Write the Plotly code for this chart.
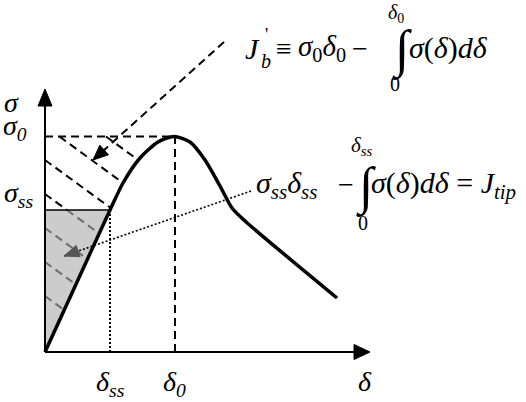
import numpy as np
import plotly.graph_objects as go

# ---- data (schematic cohesive law, arbitrary units) ----
delta_curve = [0.0, 0.325, 0.65, 0.78, 0.95, 1.13, 1.29, 1.45, 1.60, 1.75, 1.87, 2.00, 2.92]
sigma_curve = [0.0, 0.71, 1.42, 1.69, 1.94, 2.10, 2.155, 2.10, 1.92, 1.66, 1.44, 1.31, 0.54]
delta_ss, delta_0 = 0.65, 1.30
sigma_ss, sigma_0 = 1.42, 2.155
peak_index = 6
hatch_intercepts = [2.60, 2.26, 1.92, 1.58, 1.24, 0.90, 0.56]
hatch_slope = 0.73
axis_end_delta, axis_end_sigma = 3.25, 2.63
jb_from, jb_to = (1.79, 3.10), (0.48, 1.92)
jtip_from, jtip_to = (2.06, 1.61), (0.19, 0.96)

W, H = 526, 402
XR = [-0.45, 4.81]
YR = [-0.50, 3.52]
FONT = "Liberation Serif"

fig = go.Figure()

def line(x, y, color="black", width=2, dash=None):
    fig.add_trace(go.Scatter(x=x, y=y, mode="lines", hoverinfo="skip",
                             line=dict(color=color, width=width, dash=dash)))

def head(tip, frm, length, half, color="black"):
    t = np.array(tip, float); f = np.array(frm, float)
    d = (t - f) / np.linalg.norm(t - f)
    n = np.array([-d[1], d[0]])
    b = t - d * length
    p1, p2 = b + n * half, b - n * half
    fig.add_trace(go.Scatter(x=[t[0], p1[0], p2[0], t[0]], y=[t[1], p1[1], p2[1], t[1]],
                             mode="lines", fill="toself", fillcolor=color,
                             line=dict(color=color, width=1), hoverinfo="skip"))

# grey shaded triangle
fig.add_trace(go.Scatter(x=[0, 0, delta_ss, 0], y=[0, sigma_ss, sigma_ss, 0], mode="lines",
                         fill="toself", fillcolor="rgb(204,204,204)",
                         line=dict(width=0, color="rgba(0,0,0,0)"), hoverinfo="skip"))

# hatching: clip to region x>=0, sigma<=sigma_0, left of rising curve
grid = np.linspace(0, delta_curve[peak_index], 2000)
rise = np.interp(grid, delta_curve[:peak_index + 1], sigma_curve[:peak_index + 1])
for c in hatch_intercepts:
    hl = c - hatch_slope * grid
    idx = np.where(rise - hl >= 0)[0]
    d_end = grid[idx[0]]
    s_end = c - hatch_slope * d_end
    d_start = max(0.0, (c - sigma_0) / hatch_slope)
    s_start = c - hatch_slope * d_start
    if s_start > sigma_ss and s_end < sigma_ss:
        d_mid = (c - sigma_ss) / hatch_slope
        line([d_start, d_mid], [s_start, sigma_ss], dash="8px,5px")
        line([d_mid, d_end], [sigma_ss, s_end], color="rgb(110,110,110)", dash="8px,5px")
    elif s_start <= sigma_ss:
        line([d_start, d_end], [s_start, s_end], color="rgb(110,110,110)", dash="8px,5px")
    else:
        line([d_start, d_end], [s_start, s_end], dash="8px,5px")

# reference lines
line([0, delta_ss], [sigma_ss, sigma_ss], width=1.5)
line([delta_ss, delta_ss], [0, sigma_ss], width=2, dash="2px,2px")
line([0, delta_0], [sigma_0, sigma_0], width=2, dash="8px,5px")
line([delta_0, delta_0], [0, sigma_0], width=2, dash="8px,5px")

# pointers
line([jb_from[0], jb_to[0]], [jb_from[1], jb_to[1]], width=2, dash="8px,5px")
head(jb_to, jb_from, 0.15, 0.065)
line([jtip_from[0], jtip_to[0]], [jtip_from[1], jtip_to[1]], width=1.6, dash="2px,2px")
head(jtip_to, jtip_from, 0.15, 0.06, color="rgb(85,85,85)")

# cohesive curve
fig.add_trace(go.Scatter(x=delta_curve, y=sigma_curve, mode="lines", hoverinfo="skip",
                         line=dict(color="black", width=3.5, shape="spline", smoothing=0.7)))

# axes with arrows
line([0, axis_end_delta - 0.1], [0, 0], width=2)
line([0, 0], [0, axis_end_sigma - 0.1], width=2)
head((axis_end_delta, 0), (0, 0), 0.16, 0.075)
head((0, axis_end_sigma), (0, 0), 0.17, 0.07)

anns = []
def ann(text, px, py, size=28, xanchor="center"):
    anns.append(dict(text=text, x=px / W, y=1 - py / H, xref="paper", yref="paper",
                     xanchor=xanchor, yanchor="middle", showarrow=False,
                     font=dict(family=FONT, size=size, color="black")))

ann("<i>σ</i>", 11, 102)
ann("<i>σ<sub>0</sub></i>", 15, 127)
ann("<i>σ<sub>ss</sub></i>", 18, 195)
ann("<i>δ<sub>ss</sub></i>", 110, 383)
ann("<i>δ<sub>0</sub></i>", 174, 383)
ann("<i>δ</i>", 365, 381)

# J_b' equation
ann("<i>J</i>", 252, 48, 30)
ann("<i>b</i>", 266, 61, 20)
ann("'", 266, 35, 18)
ann("≡", 284, 48, 28)
ann("<i>σ</i><sub>0</sub><i>δ</i><sub>0</sub>", 296, 48, 29, "left")
ann("−", 360, 48, 28)
ann("∫", 402, 50, 52)
ann("<i>δ</i><sub>0</sub>", 396, 13, 20)
ann("0", 395, 84, 20)
ann("<i>σ</i>(<i>δ</i>)<i>dδ</i>", 407, 48, 30, "left")

# J_tip equation
ann("<i>σ</i><sub><i>ss</i></sub><i>δ</i><sub><i>ss</i></sub>", 254, 185, 30, "left")
ann("−", 346, 185, 28)
ann("∫", 366, 187, 52)
ann("<i>δ</i><sub><i>ss</i></sub>", 361, 146, 21)
ann("0", 363, 223, 20)
ann("<i>σ</i>(<i>δ</i>)<i>dδ</i> = <i>J</i><sub><i>tip</i></sub>", 369, 185, 30, "left")

fig.update_layout(
    width=W, height=H, margin=dict(l=0, r=0, t=0, b=0),
    paper_bgcolor="white", plot_bgcolor="white", showlegend=False,
    xaxis=dict(range=XR, visible=False, fixedrange=True),
    yaxis=dict(range=YR, visible=False, fixedrange=True),
    annotations=anns,
)
fig.write_html("out.html", config={"displayModeBar": False},
               post_script="document.body.style.margin='0';")
